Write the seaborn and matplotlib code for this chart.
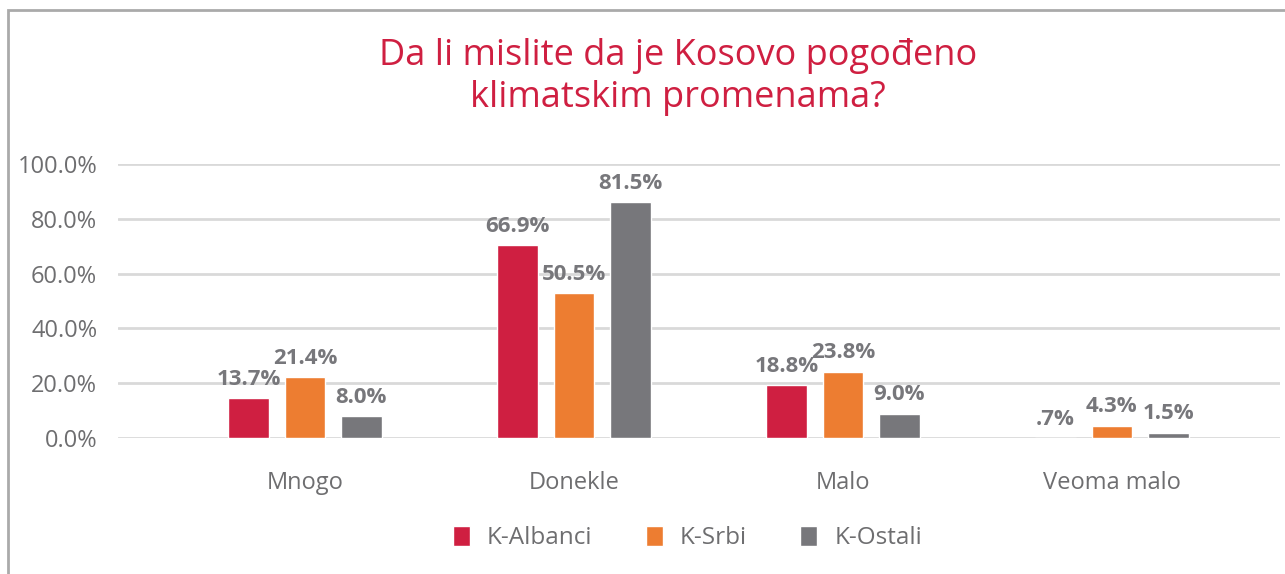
import matplotlib
matplotlib.use("Agg")
import matplotlib.pyplot as plt
import matplotlib.patches as patches
from matplotlib.ticker import FuncFormatter
import pandas as pd
import seaborn as sns

CATEGORIES = ["Mnogo", "Donekle", "Malo", "Veoma malo"]
GROUPS = ["K-Albanci", "K-Srbi", "K-Ostali"]
# bar heights as drawn in the picture
ALBANCI = [14.5, 70.4, 19.3, 0.0]
SRBI = [22.1, 52.9, 24.2, 4.5]
OSTALI = [7.9, 86.1, 8.9, 1.9]
# labels as printed on the picture
ALBANCI_LABELS = ["13.7%", "66.9%", "18.8%", ".7%"]
SRBI_LABELS = ["21.4%", "50.5%", "23.8%", "4.3%"]
OSTALI_LABELS = ["8.0%", "81.5%", "9.0%", "1.5%"]
YTICKS = [0, 20, 40, 60, 80, 100]

TITLE = "Da li mislite da je Kosovo pogođeno\nklimatskim promenama?"
COLORS = ["#CF1F41", "#ED7D31", "#77777B"]
TEXT_GRAY = "#6E6E70"
LABEL_GRAY = "#77777B"

sns.set_theme(style="white")
plt.rcParams["font.family"] = ["Open Sans", "DejaVu Sans"]

df = pd.DataFrame({
    "category": CATEGORIES * 3,
    "group": [g for g in GROUPS for _ in CATEGORIES],
    "value": ALBANCI + SRBI + OSTALI,
})

W, H = 1285, 574
fig = plt.figure(figsize=(W / 100, H / 100), dpi=100)
ax = fig.add_axes([118 / W, 1 - 438 / H, (1280 - 118) / W, 274 / H])

sns.barplot(data=df, x="category", y="value", hue="group", hue_order=GROUPS,
            order=CATEGORIES, palette=COLORS, width=0.63, gap=0.28,
            saturation=1, ax=ax, legend=True)

for container, labels in zip(ax.containers, [ALBANCI_LABELS, SRBI_LABELS, OSTALI_LABELS]):
    ax.bar_label(container, labels=labels, padding=6, fontsize=16,
                 fontweight="bold", color=LABEL_GRAY)

ax.set_ylim(0, 100)
ax.set_xlim(-0.695, 3.625)
ax.set_yticks(YTICKS)
ax.yaxis.set_major_formatter(FuncFormatter(lambda v, p: "{:.1f}%".format(v)))
ax.grid(axis="y", color="#D9D9D9", linewidth=2)
ax.set_axisbelow(True)
for s in ax.spines.values():
    s.set_visible(False)
ax.tick_params(axis="y", length=0, pad=15, labelsize=17, labelcolor=TEXT_GRAY)
ax.tick_params(axis="x", length=0, pad=24, labelsize=17, labelcolor=TEXT_GRAY)
ax.set_xlabel("")
ax.set_ylabel("")

leg = ax.legend(loc="center", bbox_to_anchor=(0.49, -0.365), ncol=3,
                frameon=False, fontsize=17.5, handlelength=0.7, handleheight=0.9,
                columnspacing=2.2, handletextpad=0.7)
for t in leg.get_texts():
    t.set_color(TEXT_GRAY)

fig.text(678 / W, 1 - 77 / H, TITLE, ha="center", va="center", fontsize=26,
         color="#CF1F41", linespacing=1.2)

fig.patches.append(patches.Rectangle((8 / W, -0.05), 1.2, 1 - 10 / H + 0.05,
                                     transform=fig.transFigure, fill=False,
                                     edgecolor="#AAAAAA", linewidth=2))

fig.savefig("out.png", dpi=100)
